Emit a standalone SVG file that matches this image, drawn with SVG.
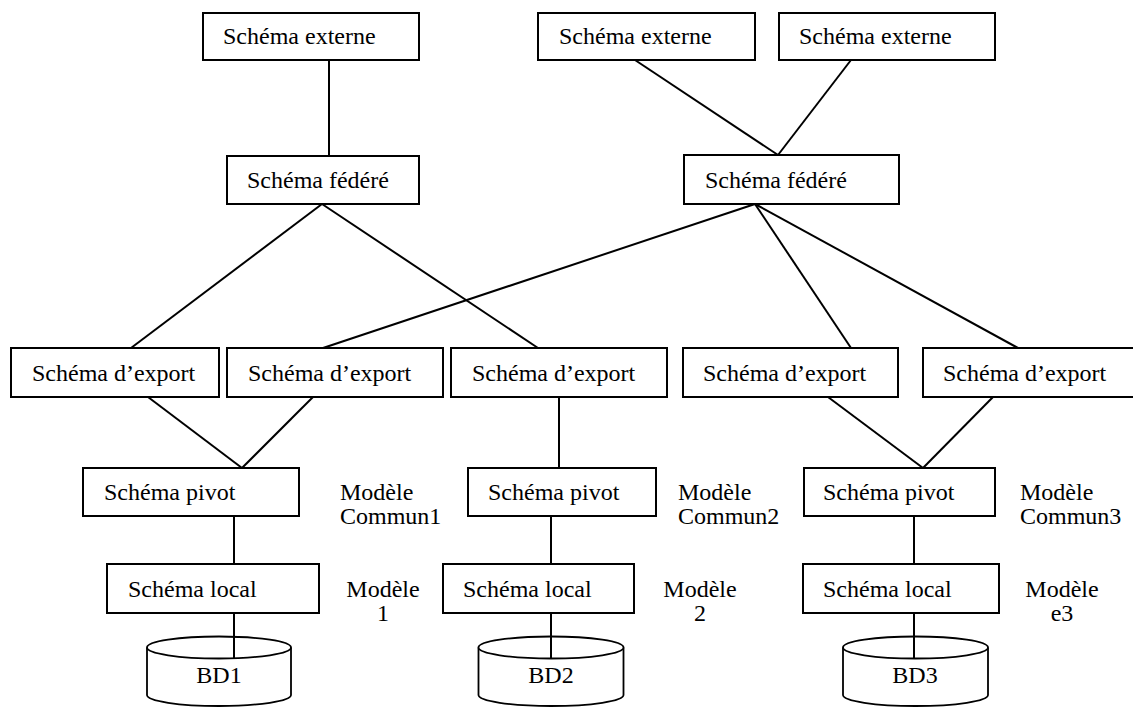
<svg xmlns="http://www.w3.org/2000/svg" width="1133" height="707" viewBox="0 0 1133 707">
  <style>
    .box { fill: #fff; stroke: #000; stroke-width: 2; }
    .db { fill: #fff; stroke: #000; stroke-width: 1.8; }
    .lbl { font-family: "Liberation Serif", "Times New Roman", serif; font-size: 24px; fill: #000; }
    .mid { text-anchor: middle; }
    #connectors line { stroke: #000; stroke-width: 2; }
  </style>
  <rect width="1133" height="707" fill="#fff"/>

  <!-- connectors -->
  <g id="connectors">
    <line x1="329" y1="60" x2="329" y2="156"/>
    <line x1="635" y1="60" x2="778" y2="155"/>
    <line x1="851" y1="60" x2="778" y2="155"/>
    <line x1="322" y1="204" x2="131" y2="348"/>
    <line x1="322" y1="204" x2="538" y2="348"/>
    <line x1="755" y1="204" x2="323" y2="348"/>
    <line x1="755" y1="204" x2="851" y2="348"/>
    <line x1="755" y1="204" x2="1018" y2="348"/>
    <line x1="148" y1="397" x2="242" y2="468"/>
    <line x1="313" y1="397" x2="242" y2="468"/>
    <line x1="559" y1="397" x2="559" y2="468"/>
    <line x1="828" y1="397" x2="923" y2="468"/>
    <line x1="993" y1="397" x2="923" y2="468"/>
    <line x1="234" y1="516" x2="234" y2="564"/>
    <line x1="551" y1="516" x2="551" y2="564"/>
    <line x1="914" y1="516" x2="914" y2="564"/>
  </g>

  <!-- external schemas -->
  <g id="ext1">
    <rect class="box" x="203" y="13" width="216" height="47"/>
    <text class="lbl" x="223" y="44">Schéma externe</text>
  </g>
  <g id="ext2">
    <rect class="box" x="538" y="13" width="217" height="47"/>
    <text class="lbl" x="559" y="44">Schéma externe</text>
  </g>
  <g id="ext3">
    <rect class="box" x="779" y="13" width="216" height="47"/>
    <text class="lbl" x="799" y="44">Schéma externe</text>
  </g>

  <!-- federated schemas -->
  <g id="fed1">
    <rect class="box" x="227" y="156" width="192" height="48"/>
    <text class="lbl" x="247" y="188">Schéma fédéré</text>
  </g>
  <g id="fed2">
    <rect class="box" x="684" y="155" width="215" height="49"/>
    <text class="lbl" x="705" y="188">Schéma fédéré</text>
  </g>

  <!-- export schemas -->
  <g id="exp1">
    <rect class="box" x="11" y="348" width="208" height="49"/>
    <text class="lbl" x="32" y="381">Schéma d’export</text>
  </g>
  <g id="exp2">
    <rect class="box" x="227" y="348" width="216" height="49"/>
    <text class="lbl" x="248" y="381">Schéma d’export</text>
  </g>
  <g id="exp3">
    <rect class="box" x="451" y="348" width="216" height="49"/>
    <text class="lbl" x="472" y="381">Schéma d’export</text>
  </g>
  <g id="exp4">
    <rect class="box" x="683" y="348" width="215" height="49"/>
    <text class="lbl" x="703" y="381">Schéma d’export</text>
  </g>
  <g id="exp5">
    <rect class="box" x="923" y="348" width="220" height="49"/>
    <text class="lbl" x="943" y="381">Schéma d’export</text>
  </g>

  <!-- pivot schemas -->
  <g id="piv1">
    <rect class="box" x="83" y="468" width="216" height="48"/>
    <text class="lbl" x="104" y="500">Schéma pivot</text>
  </g>
  <g id="piv2">
    <rect class="box" x="468" y="468" width="188" height="48"/>
    <text class="lbl" x="488" y="500">Schéma pivot</text>
  </g>
  <g id="piv3">
    <rect class="box" x="804" y="468" width="191" height="48"/>
    <text class="lbl" x="823" y="500">Schéma pivot</text>
  </g>

  <!-- common model labels -->
  <g id="mc1">
    <text class="lbl" x="340" y="500">Modèle</text>
    <text class="lbl" x="340" y="524">Commun1</text>
  </g>
  <g id="mc2">
    <text class="lbl" x="678" y="500">Modèle</text>
    <text class="lbl" x="678" y="524">Commun2</text>
  </g>
  <g id="mc3">
    <text class="lbl" x="1020" y="500">Modèle</text>
    <text class="lbl" x="1020" y="524">Commun3</text>
  </g>

  <!-- local schemas -->
  <g id="loc1">
    <rect class="box" x="107" y="564" width="212" height="49"/>
    <text class="lbl" x="128" y="597">Schéma local</text>
  </g>
  <g id="loc2">
    <rect class="box" x="443" y="564" width="191" height="49"/>
    <text class="lbl" x="463" y="597">Schéma local</text>
  </g>
  <g id="loc3">
    <rect class="box" x="803" y="564" width="196" height="49"/>
    <text class="lbl" x="823" y="597">Schéma local</text>
  </g>

  <!-- local model labels -->
  <g id="ml1">
    <text class="lbl mid" x="383" y="597">Modèle</text>
    <text class="lbl mid" x="383" y="621">1</text>
  </g>
  <g id="ml2">
    <text class="lbl mid" x="700" y="597">Modèle</text>
    <text class="lbl mid" x="700" y="621">2</text>
  </g>
  <g id="ml3">
    <text class="lbl mid" x="1062" y="597">Modèle</text>
    <text class="lbl mid" x="1062" y="621">e3</text>
  </g>

  <!-- databases -->
  <g id="bd1">
    <path class="db" d="M147,647.5 L147,695 A72,11 0 0 0 291,695 L291,647.5"/>
    <ellipse class="db" cx="219" cy="647.5" rx="72" ry="11"/>
    <line x1="234" y1="613" x2="234" y2="658.5" stroke="#000" stroke-width="2"/>
    <text class="lbl mid" x="219" y="683">BD1</text>
  </g>
  <g id="bd2">
    <path class="db" d="M478.5,647.5 L478.5,695 A72.5,11 0 0 0 623.5,695 L623.5,647.5"/>
    <ellipse class="db" cx="551" cy="647.5" rx="72.5" ry="11"/>
    <line x1="551" y1="613" x2="551" y2="658.5" stroke="#000" stroke-width="2"/>
    <text class="lbl mid" x="551" y="683">BD2</text>
  </g>
  <g id="bd3">
    <path class="db" d="M843,647.5 L843,695 A72.5,11 0 0 0 988,695 L988,647.5"/>
    <ellipse class="db" cx="915.5" cy="647.5" rx="72.5" ry="11"/>
    <line x1="914" y1="613" x2="914" y2="658.5" stroke="#000" stroke-width="2"/>
    <text class="lbl mid" x="915" y="683">BD3</text>
  </g>
</svg>
